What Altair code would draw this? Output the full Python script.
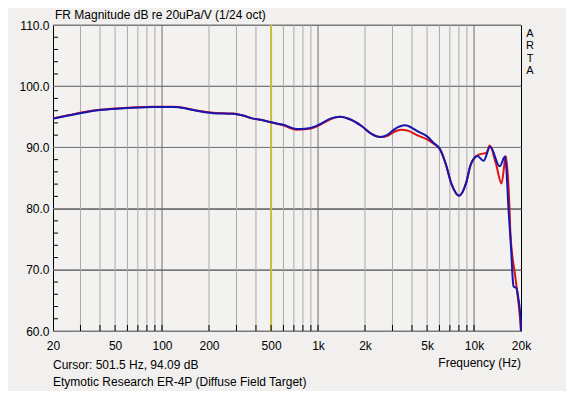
import altair as alt
import pandas as pd

# ---- data ----
blue_f = [20, 25, 33, 40, 54, 70, 88, 118, 140, 158, 185, 212, 286, 330, 384, 450, 500, 600,
          727, 850, 950, 1029, 1200, 1385, 1600, 1900, 2200, 2500, 2800, 3100, 3600, 4000,
          4300, 5000, 5470, 6050, 6550, 7200, 8000, 8900, 9500, 10500, 11500, 12700, 14600,
          15800, 16700, 17300, 17700, 17900, 18700, 19200, 19900, 20000]
blue_db = [94.7, 95.2, 95.8, 96.1, 96.35, 96.5, 96.6, 96.6, 96.4, 96.1, 95.8, 95.6, 95.5, 95.2,
           94.7, 94.4, 94.1, 93.7, 93.0, 93.1, 93.4, 93.8, 94.7, 95.0, 94.6, 93.5, 92.2, 91.7,
           92.1, 93.0, 93.6, 93.2, 92.7, 91.8, 90.8, 89.7, 87.5, 83.9, 82.1, 84.2, 87.1, 88.6,
           87.8, 90.1, 86.9, 88.5, 79.2, 73.2, 68.5, 67.3, 67.0, 65.5, 61.6, 60.0]

red_f = [20, 25, 33, 40, 54, 70, 88, 118, 140, 158, 185, 212, 286, 330, 384, 450, 500, 600,
         727, 850, 950, 1029, 1200, 1385, 1600, 1900, 2200, 2500, 2800, 3100, 3400, 3800,
         4300, 5000, 5500, 6050, 6550, 7200, 8000, 8900, 9500, 10500, 11000, 12000, 12600,
         13800, 15000, 16000, 16900, 17100, 18400, 19700, 20000]
red_db = [94.75, 95.25, 95.85, 96.15, 96.4, 96.55, 96.65, 96.65, 96.45, 96.15, 95.85, 95.65,
          95.55, 95.2, 94.7, 94.4, 94.1, 93.6, 92.9, 93.0, 93.3, 93.7, 94.6, 95.0, 94.6, 93.5,
          92.2, 91.7, 91.9, 92.6, 92.9, 92.7, 92.0, 91.3, 90.6, 89.7, 87.5, 83.9, 82.1, 84.2,
          87.1, 88.7, 88.9, 89.1, 90.3, 87.4, 84.1, 88.6, 79.7, 76.0, 68.8, 62.2, 60.0]

cursor_f = [500]
grid_major_f = [100, 1000, 10000]
grid_minor_f = [30, 40, 50, 60, 70, 80, 90, 200, 300, 400, 600, 700, 800, 900,
                2000, 3000, 4000, 5000, 6000, 7000, 8000, 9000]
tick_x_f = [30, 40, 50, 60, 70, 80, 90, 100, 200, 300, 400, 500, 600, 700, 800, 900,
            1000, 2000, 3000, 4000, 5000, 6000, 7000, 8000, 9000, 10000]
y_minor_ticks = [62, 64, 66, 68, 72, 74, 76, 78, 82, 84, 86, 88, 92, 94, 96, 98,
                 102, 104, 106, 108]
y_major = [60, 70, 80, 90, 100, 110]
x_label_values = [20, 50, 100, 200, 500, 1000, 2000, 5000, 10000, 20000]
x_label_text = ["20", "50", "100", "200", "500", "1k", "2k", "5k", "10k", "20k"]

title_text = "FR Magnitude dB re 20uPa/V (1/24 oct)"
cursor_text = "Cursor: 501.5 Hz, 94.09 dB"
caption_text = "Etymotic Research ER-4P (Diffuse Field Target)"
xtitle_text = "Frequency (Hz)"
arta_letters = ["A", "R", "T", "A"]

# ---- chart ----
W, H = 468, 306
FONT = "Liberation Sans"

label_expr = "[" + ",".join("'%s'" % t for t in x_label_text) + "][indexof([" + \
    ",".join(str(v) for v in x_label_values) + "], datum.value)]"

xscale = alt.Scale(type="log", domain=[20, 20000], nice=False)
yscale = alt.Scale(domain=[60, 110], nice=False, zero=False)

X = alt.X("f:Q", scale=xscale,
          axis=alt.Axis(values=x_label_values, labelExpr=label_expr, title=None,
                        ticks=False, domain=False, grid=False, labelFlush=False,
                        labelOverlap=False, labelBound=False, labelPadding=9,
                        labelFont=FONT, labelFontSize=12, labelColor="#000000"))
Y = alt.Y("db:Q", scale=yscale,
          axis=alt.Axis(values=y_major, format=".1f", title=None, ticks=False,
                        domain=False, grid=True, gridColor="#7a7a7a", gridOpacity=1,
                        labelPadding=4, labelFont=FONT, labelFontSize=12,
                        labelColor="#000000"))

blue_df = pd.DataFrame({"f": blue_f, "db": blue_db})
red_df = pd.DataFrame({"f": red_f, "db": red_db})

minor_grid = alt.Chart(pd.DataFrame({"f": grid_minor_f})).mark_rule(
    color="#a9a9a9", strokeWidth=1).encode(x=X, y=alt.value(0), y2=alt.value(H))
major_grid = alt.Chart(pd.DataFrame({"f": grid_major_f})).mark_rule(
    color="#6a6a6a", strokeWidth=1).encode(x=X, y=alt.value(0), y2=alt.value(H))
ybase = alt.Chart(pd.DataFrame({"db": y_major})).mark_rule(
    color="#7a7a7a", strokeWidth=1).encode(y=Y, x=alt.value(0), x2=alt.value(W))
cursor = alt.Chart(pd.DataFrame({"f": cursor_f})).mark_rule(
    color="#c8bc3a", strokeWidth=2).encode(x=X, y=alt.value(0), y2=alt.value(H))

red_line = alt.Chart(red_df).mark_line(color="#e01010", strokeWidth=2,
                                       interpolate="monotone").encode(x=X, y=Y)
blue_line = alt.Chart(blue_df).mark_line(color="#1616b0", strokeWidth=2,
                                         interpolate="monotone").encode(x=X, y=Y)

xticks = alt.Chart(pd.DataFrame({"f": tick_x_f})).mark_rule(
    color="#000000", strokeWidth=1).encode(x=X, y=alt.value(H - 6), y2=alt.value(H))
yticks = alt.Chart(pd.DataFrame({"db": y_minor_ticks})).mark_rule(
    color="#000000", strokeWidth=1).encode(y=Y, x=alt.value(0), x2=alt.value(5))

one = pd.DataFrame({"k": [0]})


def txt(s, x, y, align="left", baseline="alphabetic", size=12):
    return alt.Chart(one).mark_text(text=s, align=align, baseline=baseline, font=FONT,
                                    fontSize=size, color="#000000").encode(
        x=alt.value(x), y=alt.value(y))


texts = [
    txt(title_text, 2, -6),
    txt(cursor_text, 0, 344),
    txt(caption_text, 0, 361),
    txt(xtitle_text, 468, 342, align="right"),
]
for i, letter in enumerate(arta_letters):
    texts.append(txt(letter, 477, 12 + i * 12.4, align="center", size=11))

chart = alt.layer(ybase, minor_grid, major_grid, cursor, red_line, blue_line,
                  xticks, yticks, *texts).properties(
    width=W, height=H,
    autosize=alt.AutoSizeParams(type="none"),
    padding={"left": 45, "top": 17, "right": 45, "bottom": 60},
    background="#f1f0ee",
).configure_view(stroke="#000000", strokeWidth=1, fill="#f3f2f0")

chart.save("out.html", embed_options={"renderer": "svg", "actions": False})
